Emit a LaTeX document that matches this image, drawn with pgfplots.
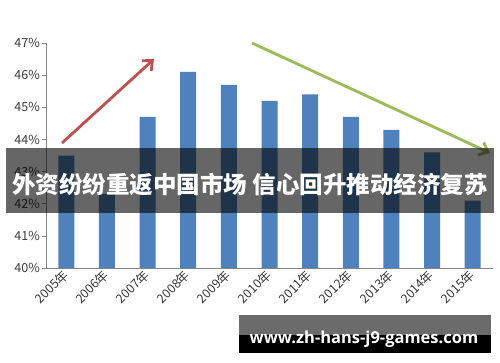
\documentclass[border=0pt]{standalone}
\usepackage{pgfplots}
\pgfplotsset{compat=1.18}
\usepackage{fontspec}
\usetikzlibrary{arrows.meta}
\newfontfamily\cjk{Noto Sans CJK SC}
\newfontfamily\webfont{Open Sans}
\definecolor{barblue}{HTML}{4F81BD}
\definecolor{arrred}{HTML}{C0504D}
\definecolor{arrgreen}{HTML}{9BBB59}
\definecolor{axisgray}{HTML}{868686}
\definecolor{labelgray}{HTML}{3A3A3A}

\pgfplotstableread{
idx share
0 43.5
1 42.3
2 44.7
3 46.1
4 45.7
5 45.2
6 45.4
7 44.7
8 44.3
9 43.6
10 42.1
}\sharedata

\begin{document}
\begin{tikzpicture}[x=1pt,y=1pt]
\fill[white] (-46,-94) rectangle (454,268);
\path[use as bounding box] (-46,-94) rectangle (454,268);
\begin{axis}[
  at={(0,0)}, anchor=south west,
  scale only axis, width=447pt, height=225pt,
  xmin=-0.5, xmax=10.5, ymin=40, ymax=47,
  axis x line*=bottom, axis y line*=left,
  axis line style={axisgray, line width=0.6pt},
  ytick={40,41,42,43,44,45,46,47},
  yticklabels={40\%,41\%,42\%,43\%,44\%,45\%,46\%,47\%},
  xtick={0,...,10},
  xticklabels={2005年,2006年,2007年,2008年,2009年,2010年,2011年,2012年,2013年,2014年,2015年},
  extra x ticks={-0.5,0.5,1.5,2.5,3.5,4.5,5.5,6.5,7.5,8.5,9.5,10.5},
  extra x tick labels={},
  extra x tick style={major tick length=4pt, tick style={axisgray, line width=0.6pt}},
  major x tick style={draw=none},
  tick align=outside,
  major tick length=4pt,
  tick style={axisgray, line width=0.6pt},
  y tick label style={font=\cjk\fontsize{12.5}{14}\selectfont, text=labelgray, inner sep=2pt},
  x tick label style={font=\cjk\fontsize{12.5}{14}\selectfont, text=labelgray, rotate=45, anchor=east, inner sep=1pt},
  clip=false,
]
\addplot[ybar, bar width=16pt, fill=barblue, draw=none, bar shift=0pt] table[x=idx, y=share] {\sharedata};
\draw[arrred, line width=2.8pt, -{Straight Barb[length=8pt, width=14pt, line width=2.8pt]}]
  (axis cs:-0.106,43.89) -- (axis cs:2.157,46.50);
\draw[arrgreen, line width=2.8pt, -{Straight Barb[length=8pt, width=14pt, line width=2.8pt]}]
  (axis cs:4.569,47.0) -- (axis cs:10.425,43.58);
\end{axis}
% headline banner across the middle
\fill[black, opacity=0.6] (-40,55) rectangle (448,120);
\node[text=white, font=\cjk\bfseries\fontsize{23.5}{26}\selectfont, inner sep=0pt] at (204,83)
  {外资纷纷重返中国市场 信心回升推动经济复苏};
% site label in the lower right
\fill[black!58] (193,-47) rectangle (445,-67);
\fill[black] (193,-67) rectangle (445,-85);
\node[text=white, font=\webfont\bfseries\fontsize{16.5}{18}\selectfont, inner sep=0pt] at (318,-71)
  {www.zh-hans-j9-games.com};
\end{tikzpicture}
\end{document}
